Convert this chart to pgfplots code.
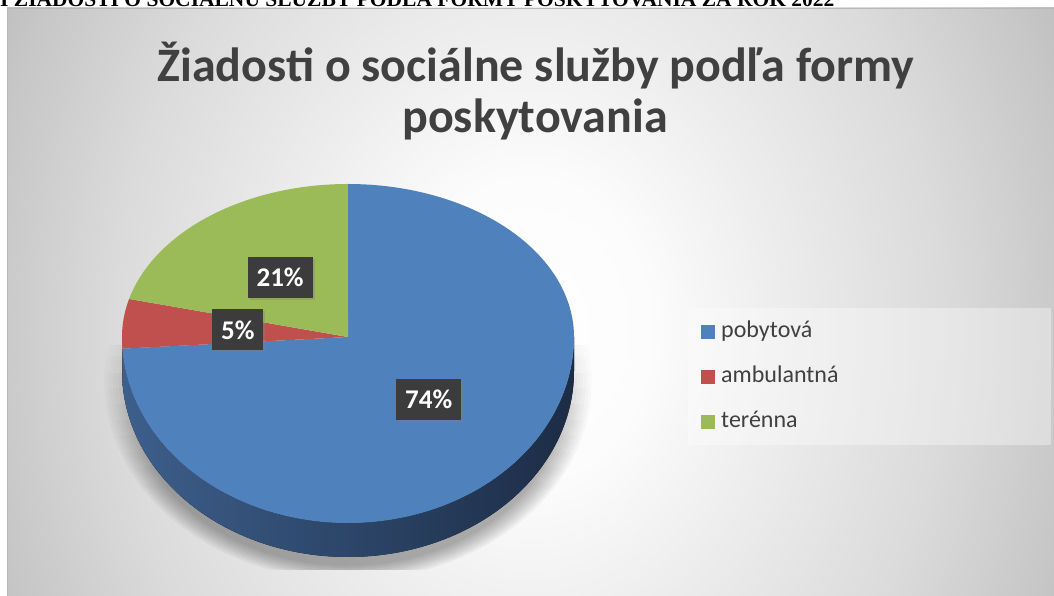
\documentclass[border=0pt]{standalone}
\usepackage{pgfplots}
\pgfplotsset{compat=1.18}
\usepackage{pgfplotstable}
\usetikzlibrary{shadows,fadings}
\usepackage{fontspec}
\setmainfont{Carlito}
\newfontfamily\timesfont{Liberation Serif}

\definecolor{cBlue}{HTML}{4F81BD}
\definecolor{cRed}{HTML}{C0504D}
\definecolor{cGreen}{HTML}{9BBB59}
\definecolor{txt}{HTML}{404040}
\definecolor{sideL}{HTML}{3D5F8C}
\definecolor{sideM}{HTML}{243B5C}
\definecolor{sideR}{HTML}{1C2C45}
\definecolor{sideRed}{HTML}{7A2F2D}
\definecolor{lblbox}{HTML}{3C3C3C}

\pgfdeclareradialshading{bgshade}{\pgfpoint{0bp}{0bp}}{%
  color(0bp)=(white);
  color(5bp)=(white!98.8!black);
  color(10bp)=(white!93.3!black);
  color(17.5bp)=(white!85.5!black);
  color(22.5bp)=(white!78.4!black);
  color(25bp)=(white!74.5!black);
  color(100bp)=(white!74.5!black)}

\pgfdeclareverticalshading{shfadeshade}{100bp}{%
  color(0bp)=(white); color(36bp)=(white);
  color(58bp)=(pgftransparent); color(100bp)=(pgftransparent)}
\pgfdeclarefading{shfade}{\pgfuseshading{shfadeshade}}

\pgfplotstableread{
label value
pobytová 74
ambulantná 5
terénna 21
}\piedata

\pgfplotstablegetelem{0}{value}\of\piedata \let\vA\pgfplotsretval
\pgfplotstablegetelem{1}{value}\of\piedata \let\vB\pgfplotsretval
\pgfplotstablegetelem{2}{value}\of\piedata \let\vC\pgfplotsretval
\pgfplotstablegetelem{0}{label}\of\piedata \let\nA\pgfplotsretval
\pgfplotstablegetelem{1}{label}\of\piedata \let\nB\pgfplotsretval
\pgfplotstablegetelem{2}{label}\of\piedata \let\nC\pgfplotsretval

% pie geometry (pixel-like units)
\def\cx{348}\def\cy{259}\def\rx{226}\def\ryu{153}\def\ryd{186}\def\dep{34}
\pgfmathsetmacro{\tot}{\vA+\vB+\vC}
\pgfmathsetmacro{\fA}{\vA/\tot}
\pgfmathsetmacro{\fB}{\vB/\tot}
\pgfmathsetmacro{\fC}{\vC/\tot}
\pgfmathsetmacro{\aA}{90}
\pgfmathsetmacro{\aB}{\aA-360*\fA}
\pgfmathsetmacro{\aC}{\aB-360*\fB}
\pgfmathsetmacro{\aD}{\aC-360*\fC}
\pgfmathsetmacro{\mA}{(\aA+\aB)/2}
\pgfmathsetmacro{\mB}{(\aB+\aC)/2}
\pgfmathsetmacro{\mC}{(\aC+\aD)/2}
\pgfmathsetmacro{\lAx}{\cx+0.49*\rx*cos(\mA)}
\pgfmathsetmacro{\lAy}{\cy+0.49*((sin(\mA)>0)?\ryu:\ryd)*sin(\mA)}
\pgfmathsetmacro{\lBx}{\cx+0.49*\rx*cos(\mB)}
\pgfmathsetmacro{\lBy}{\cy+0.49*((sin(\mB)>0)?\ryu:\ryd)*sin(\mB)}
\pgfmathsetmacro{\lCx}{\cx+0.49*\rx*cos(\mC)}
\pgfmathsetmacro{\lCy}{\cy+0.49*((sin(\mC)>0)?\ryu:\ryd)*sin(\mC)}
\pgfmathtruncatemacro{\pA}{round(100*\fA)}
\pgfmathtruncatemacro{\pB}{round(100*\fB)}
\pgfmathtruncatemacro{\pC}{round(100*\fC)}

\begin{document}
\begin{tikzpicture}
\begin{axis}[
  x=1pt, y=1pt, xmin=0, xmax=1054, ymin=0, ymax=596,
  hide axis, clip=false, anchor=origin, at={(0,0)},
]
\coordinate (BL) at (axis cs:0,0);
\coordinate (TR) at (axis cs:1054,596);
% white page
\fill[white] (axis cs:0,0) rectangle (axis cs:1054,596);
% cut-off heading
\node[anchor=base west, inner sep=0pt, font=\timesfont\bfseries\fontsize{21.5}{22}\selectfont]
  at (axis cs:0,589.5) {I ŽIADOSTI O SOCIÁLNU SLUŽBY PODĽA FORMY POSKYTOVANIA ZA ROK 2022};
% background
\begin{scope}
\clip (axis cs:7,0) rectangle (axis cs:1054,588);
\fill[white!74.5!black] (axis cs:7,0) rectangle (axis cs:1054,588);
\shade[shading=bgshade] (axis cs:530,266) ellipse [x radius=600, y radius=750];
\end{scope}
\draw[white!72!black, line width=0.6pt] (axis cs:7,0) -- (axis cs:7,588) -- (axis cs:1054,588);
% title
\node[anchor=base, inner sep=0pt, text=txt, font=\bfseries\fontsize{48}{56}\selectfont]
  at (axis cs:536,514) {Žiadosti o sociálne služby podľa formy};
\node[anchor=base, inner sep=0pt, text=txt, font=\bfseries\fontsize{48}{56}\selectfont]
  at (axis cs:535,463) {poskytovania};
% pie shadow
\begin{scope}
\clip (axis cs:80,26) rectangle (axis cs:620,250);
\pgfplotsinvokeforeach{0,1,2,3,4,5,6,7}{
  \fill[black, opacity=0.045, path fading=shfade] (axis cs:348,216) ellipse [x radius={244-3*#1}, y radius={200-2*#1}];
}
\end{scope}
% side wall
\fill[left color=sideL, middle color=sideM, right color=sideR]
  plot[domain=\aB:0, samples=120, variable=\ang] ({\cx+\rx*cos(\ang)},{\cy+\ryd*sin(\ang)})
  -- plot[domain=0:\aB, samples=120, variable=\ang] ({\cx+\rx*cos(\ang)},{\cy+\ryd*sin(\ang)-\dep})
  -- cycle;
\fill[sideRed]
  plot[domain=-180:\aB, samples=10, variable=\ang] ({\cx+\rx*cos(\ang)},{\cy+\ryd*sin(\ang)})
  -- plot[domain=\aB:-180, samples=10, variable=\ang] ({\cx+\rx*cos(\ang)},{\cy+\ryd*sin(\ang)-\dep})
  -- cycle;
% top slices
\fill[cBlue] (axis cs:\cx,\cy) -- plot[domain=\aB:\aA, samples=200, variable=\ang]
  ({\cx+\rx*cos(\ang)},{\cy+((sin(\ang)>0)?\ryu:\ryd)*sin(\ang)}) -- cycle;
\fill[cRed] (axis cs:\cx,\cy) -- plot[domain=\aC:\aB, samples=30, variable=\ang]
  ({\cx+\rx*cos(\ang)},{\cy+((sin(\ang)>0)?\ryu:\ryd)*sin(\ang)}) -- cycle;
\fill[cGreen] (axis cs:\cx,\cy) -- plot[domain=\aD:\aC, samples=80, variable=\ang]
  ({\cx+\rx*cos(\ang)},{\cy+((sin(\ang)>0)?\ryu:\ryd)*sin(\ang)}) -- cycle;
% data labels
\tikzset{lbl/.style={fill=lblbox, text=white, font=\bfseries\fontsize{27}{27}\selectfont,
  minimum height=41pt, inner xsep=9pt, inner ysep=0pt,
  drop shadow={opacity=0.35, shadow xshift=2pt, shadow yshift=-2pt}}}
\node[lbl] at (axis cs:\lAx,\lAy) {\pA\%};
\node[lbl] at (axis cs:\lBx,\lBy) {\pB\%};
\node[lbl] at (axis cs:\lCx,\lCy) {\pC\%};
% legend
\fill[white, opacity=0.35] (axis cs:688,288) rectangle (axis cs:1051,151);
\fill[cBlue] (axis cs:701,257) rectangle (axis cs:715,271);
\fill[cRed] (axis cs:701,212) rectangle (axis cs:715,226);
\fill[cGreen] (axis cs:701,167) rectangle (axis cs:715,181);
\tikzset{leg/.style={anchor=base west, inner sep=0pt, text=txt, font=\fontsize{24}{25}\selectfont}}
\node[leg] at (axis cs:721,258) {\nA};
\node[leg] at (axis cs:721,213) {\nB};
\node[leg] at (axis cs:721,168) {\nC};
\end{axis}
\pgfresetboundingbox
\path[use as bounding box] (BL) rectangle (TR);
\end{tikzpicture}
\end{document}
